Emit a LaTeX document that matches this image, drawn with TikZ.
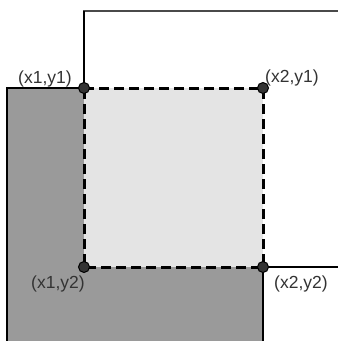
\documentclass[tikz,border=0pt]{standalone}
\usepackage{fontspec}
\setmainfont{Liberation Sans}
\definecolor{darkfill}{HTML}{9A9A9A}
\definecolor{lightfill}{HTML}{E4E4E4}
\definecolor{dotfill}{HTML}{333333}
\definecolor{txt}{HTML}{333333}
\definecolor{topline}{HTML}{4A4A4A}
\begin{document}
\begin{tikzpicture}[x=1pt,y=-1pt,
  corner/.style={circle,draw=black,fill=dotfill,line width=1pt,minimum size=11pt,inner sep=0pt},
  lbl/.style={inner sep=0pt,text=txt,font=\fontsize{17.5}{20}\selectfont},
  edge/.style={line width=2pt,black},
  dashedge/.style={line width=3pt,black,dash pattern=on 10pt off 5pt,line cap=butt}]
\useasboundingbox (0,0) rectangle (338,341);
\fill[white] (0,0) rectangle (338,341);
% coordinates
\coordinate (A) at (84,88);
\coordinate (B) at (263,88);
\coordinate (C) at (84,267);
\coordinate (D) at (263,267);
% gray rectangle
\fill[darkfill] (7,88) rectangle (263,345);
% intersection
\fill[lightfill] (A) rectangle (D);
% white rectangle outline
\draw[line width=2pt,topline] (83,11) -- (342,11);
\draw[edge] (84,11) -- (A);
\draw[line width=1.6pt,black] (D) -- (342,267);
% gray rectangle outline
\draw[line width=1.8pt,black] (7,345) -- (7,88) -- (A);
\draw[line width=1.6pt,black] (D) -- (263,345);
% dashed square
\draw[dashedge] (A) -- (B) -- (D) -- (C) -- cycle;
% corner dots
\node[corner] (p11) at (A) {};
\node[corner] (p21) at (B) {};
\node[corner] (p12) at (C) {};
\node[corner] (p22) at (D) {};
% labels
\node[lbl,anchor=base west] (l11) at (18,83.5) {(x1,y1)};
\node[lbl,anchor=base west] (l21) at (265,82.5) {(x2,y1)};
\node[lbl,anchor=base west] (l12) at (31,288) {(x1,y2)};
\node[lbl,anchor=base west] (l22) at (274,288.5) {(x2,y2)};
\end{tikzpicture}
\end{document}
